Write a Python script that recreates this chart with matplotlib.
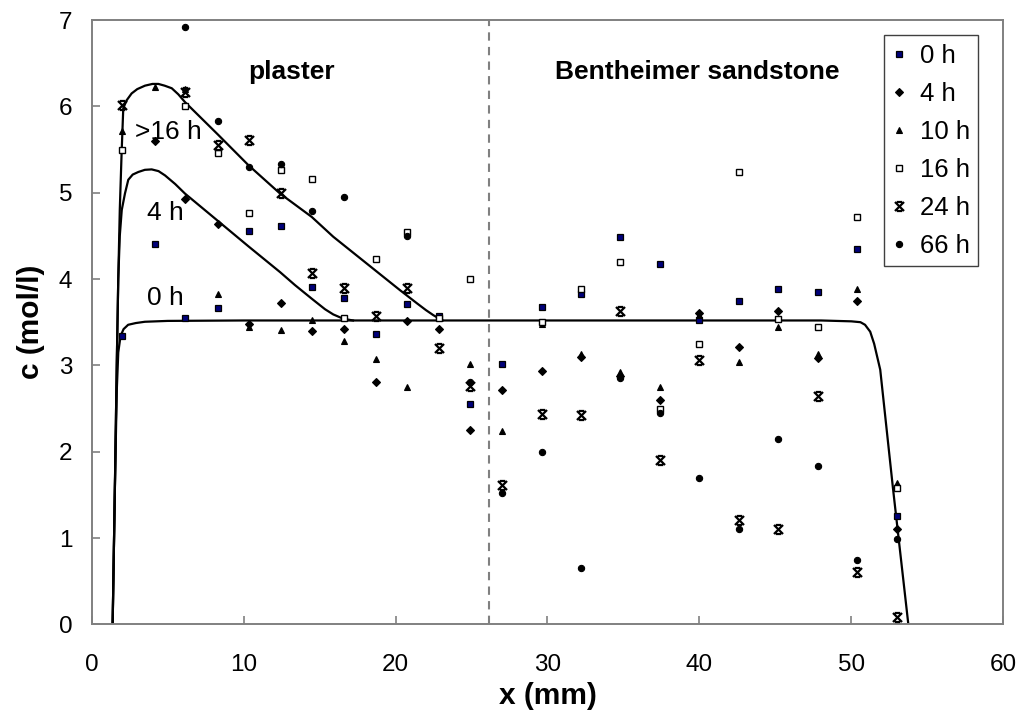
import numpy as np
import matplotlib.pyplot as plt
from matplotlib.path import Path

plt.rcParams['font.family'] = ['Liberation Sans', 'DejaVu Sans']

# ДАННЫЕ
x_pos = [2.0, 4.17, 6.14, 8.29, 10.36, 12.44, 14.52, 16.61, 18.72, 20.74, 22.84,
         24.93, 27.0, 29.62, 32.19, 34.78, 37.41, 40.0, 42.61, 45.2, 47.8, 50.4, 52.99]

nan = np.nan
c_0h = [3.34, 4.41, 3.55, 3.66, 4.56, 4.61, 3.91, 3.78, 3.36, 3.71, 3.57,
        2.55, 3.02, 3.68, 3.83, 4.49, 4.17, 3.52, 3.75, 3.89, 3.85, 4.35, 1.25]
c_4h = [nan, 5.60, 4.93, 4.64, 3.48, 3.72, 3.40, 3.42, 2.81, 3.51, 3.42,
        2.25, 2.71, 2.93, 3.10, 2.88, 2.60, 3.61, 3.21, 3.63, 3.08, 3.75, 1.11]
c_10h = [5.72, 6.23, 6.20, 3.83, 3.45, 3.41, 3.53, 3.28, 3.07, 2.75, nan,
         3.02, 2.24, 3.48, 3.13, 2.92, 2.75, 3.58, 3.04, 3.44, 3.13, 3.89, 1.64]
c_16h = [5.49, nan, 6.00, 5.46, 4.77, 5.26, 5.16, 3.55, 4.23, 4.54, 3.55,
         4.00, nan, 3.50, 3.88, 4.20, 2.49, 3.25, 5.24, 3.54, 3.44, 4.72, 1.58]
c_24h = [6.02, nan, 6.17, 5.55, 5.61, 5.00, 4.07, 3.90, 3.57, 3.90, 3.20,
         2.76, 1.61, 2.44, 2.43, 3.63, 1.90, 3.06, 1.21, 1.10, 2.64, 0.61, 0.09]
c_66h = [nan, nan, 6.92, 5.83, 5.30, 5.33, 4.79, 4.95, nan, 4.50, nan,
         2.81, 1.52, 2.00, 0.65, 2.85, 2.45, 1.69, 1.11, 2.15, 1.83, 0.75, 0.99]

# расчётные кривые
curve_0h_x = [1.38, 1.52, 1.65, 1.75, 1.9, 2.1, 2.4, 2.9, 3.5, 5.0, 10.0, 20.0, 30.0,
              40.0, 48.0, 50.0, 50.6, 50.9, 51.24, 51.5, 51.9, 52.73, 53.75]
curve_0h_y = [0.0, 1.5, 2.7, 3.15, 3.34, 3.42, 3.47, 3.49, 3.505, 3.515, 3.52, 3.52, 3.52,
              3.52, 3.52, 3.51, 3.50, 3.47, 3.39, 3.25, 2.95, 1.59, 0.0]

curve_4h_x = [1.38, 1.52, 1.65, 1.75, 1.85, 1.98, 2.19, 2.41, 2.7, 3.07, 3.5, 3.95,
              4.4, 4.83, 5.5, 6.14, 8.33, 10.31, 12.4, 13.38, 14.5, 15.36, 15.9,
              16.56, 17.2]
curve_4h_y = [0.0, 1.5, 3.0, 4.0, 4.5, 4.8, 4.99, 5.15, 5.21, 5.24, 5.265, 5.27,
              5.25, 5.20, 5.10, 4.99, 4.67, 4.38, 4.08, 3.93, 3.77, 3.65, 3.59,
              3.54, 3.52]

curve_16h_x = [1.38, 1.52, 1.65, 1.75, 1.85, 1.97, 2.08, 2.3, 2.63, 3.0, 3.51, 4.0,
               4.39, 4.8, 5.27, 5.7, 6.14, 8.33, 10.31, 12.4, 14.48, 15.9, 18.1,
               20.3, 21.4, 22.0, 22.5, 23.1]
curve_16h_y = [0.0, 1.5, 3.0, 4.0, 4.8, 5.46, 5.98, 6.07, 6.15, 6.2, 6.24, 6.26,
               6.26, 6.24, 6.21, 6.14, 6.05, 5.67, 5.32, 4.99, 4.72, 4.49, 4.18,
               3.87, 3.72, 3.64, 3.58, 3.52]

interface_x = 26.17

# маркер "звезда" как в Excel
star = Path([(-1, -1), (1, 1), (-1, 1), (1, -1), (-0.6, 1), (0.6, 1), (-0.6, -1), (0.6, -1)],
            [Path.MOVETO, Path.LINETO, Path.MOVETO, Path.LINETO,
             Path.MOVETO, Path.LINETO, Path.MOVETO, Path.LINETO])

series = [
    ('0 h', c_0h, dict(marker='s', ms=4.5, mfc='#00007a', mec='black', mew=0.9)),
    ('4 h', c_4h, dict(marker='D', ms=4.2, mfc='black', mec='black', mew=0.8)),
    ('10 h', c_10h, dict(marker='^', ms=5, mfc='black', mec='black', mew=0.8)),
    ('16 h', c_16h, dict(marker='s', ms=4.5, mfc='white', mec='black', mew=1.0)),
    ('24 h', c_24h, dict(marker=star, ms=6.5, mfc='none', mec='black', mew=1.6)),
    ('66 h', c_66h, dict(marker='o', ms=4.5, mfc='black', mec='black', mew=0.8)),
]

fig = plt.figure(figsize=(10.22, 7.16), dpi=100)
ax = fig.add_axes([0.0897, 0.128, 0.892, 0.844])

# граница штукатурка / песчаник
ax.plot([interface_x, interface_x], [0, 7], color='#808080', lw=1.5,
        dashes=(4, 3), zorder=1)

for cx, cy in [(curve_0h_x, curve_0h_y), (curve_4h_x, curve_4h_y),
               (curve_16h_x, curve_16h_y)]:
    ax.plot(cx, cy, color='black', lw=1.6, zorder=2)

for label, vals, style in series:
    ax.plot(x_pos, vals, linestyle='none', label=label, zorder=3, **style)

ax.set_xlim(0, 60)
ax.set_ylim(0, 7)
ax.set_xticks(np.arange(0, 61, 10))
ax.set_yticks(np.arange(0, 8, 1))
ax.tick_params(axis='both', direction='in', length=6, width=1.2, color='#808080',
               labelsize=17.5)
ax.tick_params(axis='x', pad=21)
ax.tick_params(axis='y', pad=14)
for sp in ax.spines.values():
    sp.set_color('#808080')
    sp.set_linewidth(1.4)

ax.set_xlabel('x (mm)', fontsize=21.5, fontweight='bold', labelpad=5)
ax.set_ylabel('c (mol/l)', fontsize=21.5, fontweight='bold', labelpad=10)

ax.text(10.3, 6.32, 'plaster', fontsize=19, fontweight='bold', va='baseline')
ax.text(30.5, 6.32, 'Bentheimer sandstone', fontsize=19, fontweight='bold',
        va='baseline')
ax.text(2.85, 5.70, '>16 h', fontsize=19, va='center')
ax.text(3.62, 4.77, '4 h', fontsize=19, va='center')
ax.text(3.62, 3.78, '0 h', fontsize=19, va='center')

leg = ax.legend(loc='upper right', bbox_to_anchor=(0.9726, 0.975), fontsize=18.5,
                frameon=True, fancybox=False, framealpha=1, edgecolor='#404040',
                handlelength=0.5, handletextpad=0.55, borderpad=0.33,
                labelspacing=0.545, borderaxespad=0)
leg.get_frame().set_linewidth(1.0)

fig.savefig('out.png', dpi=100)
